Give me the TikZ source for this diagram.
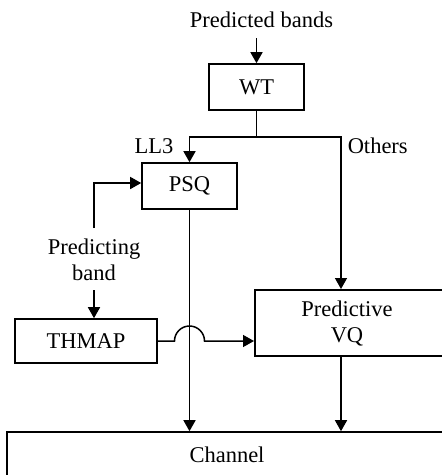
\documentclass[tikz,border=0pt]{standalone}
\usepackage{fontspec}
\setmainfont{Liberation Serif}
\usetikzlibrary{arrows.meta}
\begin{document}
\begin{tikzpicture}[x=1pt,y=-1pt,
  line width=1.5pt,
  txt/.style={inner sep=0pt, font=\fontsize{22.5}{26}\selectfont},
  blk/.style={draw, line width=1.6pt, inner sep=0pt, font=\fontsize{22.5}{26}\selectfont},
  arr/.style={-{Triangle[length=11pt,width=12pt]}}]
\useasboundingbox (0,0) rectangle (442,475);
\clip (0,0) rectangle (442,475);

% blocks
\node[blk, minimum width=95pt, minimum height=46pt] (wt) at (256.5,87) {WT};
\node[blk, minimum width=95pt, minimum height=46pt] (psq) at (189.5,186) {PSQ};
\node[blk, minimum width=142pt, minimum height=44pt] (thmap) at (86,341) {THMAP};
\node[blk, minimum width=200pt, minimum height=66pt, anchor=north west] (pvqbox) at (254,289) {};
\node[txt, align=center] (pvq) at (347,324) {Predictive\\VQ};
\node[blk, minimum width=440pt, minimum height=46pt] (chan) at (227,455) {Channel};

% labels
\node[txt, anchor=base] (pb) at (261.5,27) {Predicted bands};
\node[txt, anchor=base] (ll3) at (154,153) {LL3};
\node[txt, anchor=base west] (oth) at (347,153) {Others};
\node[txt, align=center] (pband) at (94,259.5) {Predicting\\band};

% connector end points
\coordinate (pbend) at (256.5,38);
\coordinate (split) at (256.5,137);
\coordinate (pbtop) at (94,228);
\coordinate (pbbot) at (94,290);

% connectors
\draw[arr] (pbend) -- (wt.north);
\draw (wt.south) -- (split);
\draw[arr] (split) -| (psq.north);
\draw[arr] (split) -| ([xshift=87pt]pvqbox.north west);
\draw[arr] (pbtop) |- ([yshift=3pt]psq.west);
\draw[arr] (pbbot) -- (pbbot |- thmap.north);
\draw[arr] (psq.south) -- (psq.south |- chan.north);
\draw[arr] ([xshift=87pt]pvqbox.south west) -- ([xshift=87pt]pvqbox.south west |- chan.north);
% THMAP to predictive VQ, hopping over the PSQ line
\draw[arr] (thmap.east) -- ([xshift=-15pt]psq.south |- thmap.east)
  arc[start angle=180, end angle=0, radius=15pt] -- (pvqbox.west |- thmap.east);
\end{tikzpicture}
\end{document}
